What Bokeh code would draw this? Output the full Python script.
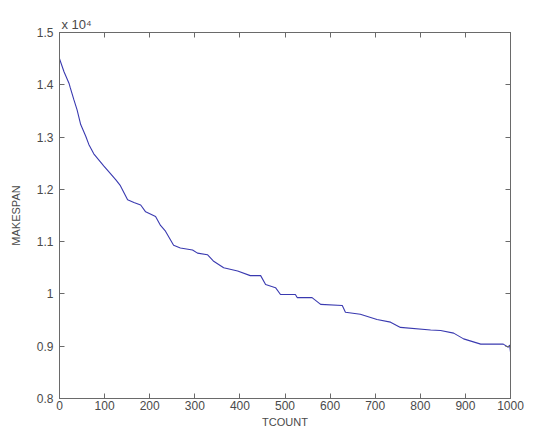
from bokeh.plotting import figure
from bokeh.models import LinearAxis, FixedTicker
from bokeh.embed import file_html
from bokeh.resources import INLINE

tcount = [0, 10, 21, 24, 32, 39, 47, 58, 65, 76, 98, 113, 125, 135, 151, 165, 180, 191,
          213, 224, 235, 253, 268, 295, 306, 328, 341, 364, 395, 423, 446, 457, 479,
          490, 523, 527, 560, 579, 627, 634, 667, 704, 734, 756, 823, 845, 874, 896,
          934, 984, 995, 998, 1000]
makespan = [14500, 14250, 14030, 13940, 13710, 13520, 13240, 13020, 12860, 12680, 12450,
            12300, 12180, 12070, 11800, 11750, 11700, 11570, 11480, 11310, 11200, 10930,
            10880, 10840, 10780, 10750, 10630, 10500, 10440, 10350, 10350, 10180, 10120,
            9990, 9990, 9930, 9930, 9800, 9780, 9650, 9610, 9510, 9460, 9360, 9310, 9300,
            9250, 9140, 9040, 9040, 8980, 9020, 8890]

x_ticks = [0, 100, 200, 300, 400, 500, 600, 700, 800, 900, 1000]
y_ticks = [8000, 9000, 10000, 11000, 12000, 13000, 14000, 15000]
y_tick_labels = ["0.8", "0.9", "1", "1.1", "1.2", "1.3", "1.4", "1.5"]
scale_label = "x 10\u2074"

FONT = "Liberation Sans"
TXT = "#4a4a4a"
AX = "#6a6a6a"

p = figure(width=526, height=430, output_backend="svg", toolbar_location=None,
           x_range=(0, 1000), y_range=(8000, 15000),
           min_border_left=59, min_border_top=32, min_border_right=16, min_border_bottom=20)
p.background_fill_color = "white"
p.border_fill_color = "white"
p.outline_line_color = AX
p.xgrid.grid_line_color = None
p.ygrid.grid_line_color = None

p.title.text = scale_label
p.title.align = "left"
p.title.offset = 2
p.title.text_font = FONT
p.title.text_font_size = "13px"
p.title.text_font_style = "normal"
p.title.text_color = TXT
p.title.standoff = 1

p.line(tcount, makespan, line_color="#3a3ab0", line_width=1.1)

xa = p.xaxis[0]
xa.ticker = FixedTicker(ticks=x_ticks)
xa.axis_label = "TCOUNT"
ya = p.yaxis[0]
ya.ticker = FixedTicker(ticks=y_ticks)
ya.major_label_overrides = {t: l for t, l in zip(y_ticks, y_tick_labels)}
ya.axis_label = "MAKESPAN"

for ax in (xa, ya):
    ax.axis_line_color = AX
    ax.major_tick_line_color = AX
    ax.major_tick_in = 5
    ax.major_tick_out = 0
    ax.minor_tick_line_color = None
    ax.major_label_text_font = FONT
    ax.major_label_text_font_size = "12px"
    ax.major_label_text_color = TXT
    ax.axis_label_text_font = FONT
    ax.axis_label_text_font_size = "11px"
    ax.axis_label_text_font_style = "normal"
    ax.axis_label_text_color = TXT
xa.major_label_standoff = 2
xa.axis_label_standoff = 3
ya.major_label_standoff = 6
ya.axis_label_standoff = 12

top = LinearAxis(ticker=FixedTicker(ticks=x_ticks))
top.major_label_overrides = {t: "" for t in x_ticks}
right = LinearAxis(ticker=FixedTicker(ticks=y_ticks))
right.major_label_overrides = {t: "" for t in y_ticks}
for ax in (top, right):
    ax.axis_line_color = AX
    ax.major_tick_line_color = AX
    ax.major_tick_in = 5
    ax.major_tick_out = 0
    ax.minor_tick_line_color = None
    ax.major_label_standoff = 0
p.add_layout(top, "above")
p.add_layout(right, "right")

open("out.html", "w").write(file_html(p, INLINE))
